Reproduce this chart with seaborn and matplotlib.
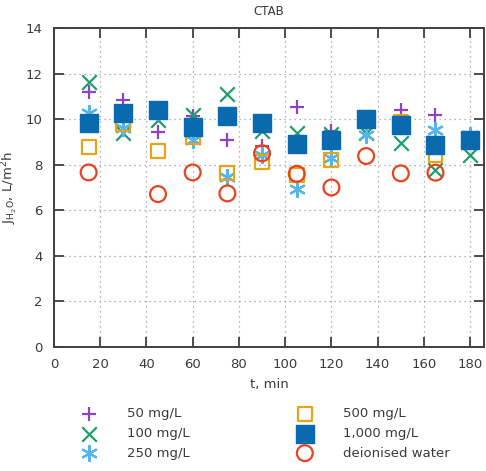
import numpy as np
import pandas as pd
import matplotlib
matplotlib.use("Agg")
import matplotlib.pyplot as plt
import seaborn as sns

t_min = [15, 30, 45, 60, 75, 90, 105, 120, 135, 150, 165, 180]
c50 = [11.2, 10.84, 9.45, 10.15, 9.08, 8.8, 10.55, 9.5, 9.9, 10.4, 10.18, 9.1]
c100 = [11.64, 9.38, 9.96, 10.2, 11.1, 9.5, 9.38, 9.35, 9.38, 8.94, 7.77, 8.42]
c250 = [10.27, 9.6, 10.3, 9.1, 7.47, 8.42, 6.92, 8.3, 9.3, 9.7, 9.52, 9.3]
c500 = [8.76, 9.8, 8.61, 9.2, 7.62, 8.1, 7.55, 8.2, 10.05, 9.89, 8.42, 9.0]
c1000 = [9.81, 10.25, 10.4, 9.67, 10.14, 9.81, 8.91, 9.08, 10.0, 9.74, 8.88, 9.08]
dwater = [7.66, np.nan, 6.71, 7.66, 6.74, 8.5, 7.6, 7.0, 8.38, 7.62, 7.65, np.nan]

labels = ["50 mg/L", "100 mg/L", "250 mg/L", "500 mg/L", "1,000 mg/L", "deionised water"]
series = [c50, c100, c250, c500, c1000, dwater]
colors = ["#8E44BE", "#1E9E6A", "#56B4E9", "#E8A317", "#0A6AB0", "#E8431E"]
markers = ["+", "x", (6, 2, 0), "s", "s", "o"]
filled = [False, False, False, False, True, False]
sizes = [110, 110, 120, 100, 170, 130]

sns.set_theme(style="ticks")
plt.rcParams['font.family'] = ['DejaVu Sans']
txt = "#3a3a3a"

fig = plt.figure(figsize=(4.86, 4.71), dpi=100)
ax = fig.add_axes([0.111, 0.2633, 0.885, 0.6773])

for i, (lab, vals, col, mk, fl, sz) in enumerate(zip(labels, series, colors, markers, filled, sizes)):
    df = pd.DataFrame({"t": t_min, "J": vals}).dropna()
    z = 3 + i * 0.1
    if mk in ("+", "x") or isinstance(mk, tuple):
        sns.scatterplot(data=df, x="t", y="J", ax=ax, marker=mk, color=col,
                        s=sz, linewidth=1.6, label=lab, zorder=z)
    elif fl:
        sns.scatterplot(data=df, x="t", y="J", ax=ax, marker=mk, color=col,
                        edgecolor=col, s=sz, linewidth=1.0, label=lab, zorder=z)
    else:
        sns.scatterplot(data=df, x="t", y="J", ax=ax, marker=mk, facecolor="none",
                        edgecolor=col, s=sz, linewidth=1.6, label=lab, zorder=z)

ax.set_xlim(0, 186)
ax.set_ylim(0, 14)
ax.set_xticks(range(0, 181, 20))
ax.set_yticks(range(0, 15, 2))
ax.grid(True, linestyle=(0, (1, 3)), color="#9a9a9a", linewidth=0.9)
ax.tick_params(direction="in", length=7, width=1.3, top=True, right=True,
               colors="#404040", labelcolor=txt, labelsize=9.5, pad=8)
for sp in ax.spines.values():
    sp.set_color("#404040")
    sp.set_linewidth(1.4)

ax.set_xlabel("t, min", fontsize=9.5, color=txt, labelpad=5)
ax.set_ylabel(r"J$_{\mathregular{H_2O}}$, L/m$^{\mathregular{2}}$h", fontsize=9.5, color=txt, labelpad=4)
ax.set_title("CTAB", fontsize=8.5, color=txt, pad=9)

handles, labs = ax.get_legend_handles_labels()
ax.get_legend().remove()
leg = fig.legend(handles, labs, ncol=2, loc="upper left", bbox_to_anchor=(0.156, 0.135),
                 frameon=False, fontsize=9.5, handletextpad=1.9, columnspacing=7.7,
                 labelspacing=0.5, borderaxespad=0, borderpad=0)
for tx in leg.get_texts():
    tx.set_color(txt)

fig.savefig("out.png", dpi=100)
